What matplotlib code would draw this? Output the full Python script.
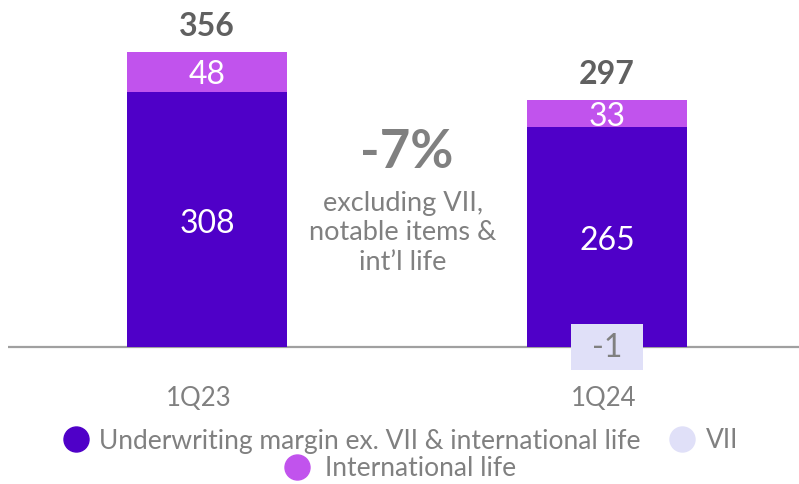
import matplotlib.pyplot as plt
from matplotlib.lines import Line2D

plt.rcParams['font.family'] = ['Lato', 'DejaVu Sans']

quarters = ['1Q23', '1Q24']
underwriting = [308, 265]
intl_life = [48, 33]
vii = [0, -1]
totals = [356, 297]

c_uw = '#4f00c8'
c_intl = '#c153ed'
c_vii = '#e0e0f8'
c_text = '#808080'
c_total = '#606060'

fig = plt.figure(figsize=(7.99, 4.84), dpi=100)
ax = fig.add_axes([8 / 799, 104 / 484, 791 / 799, 380 / 484])

x = range(len(quarters))
ax.axhline(0, color='#a0a0a0', lw=1.6, zorder=1)
ax.bar(x, underwriting, width=0.4, color=c_uw, zorder=2)
ax.bar(x, intl_life, width=0.4, bottom=underwriting, color=c_intl, zorder=2)

for i in x:
    ax.text(i, underwriting[i] / 2 - 5, str(underwriting[i]), color='white',
            ha='center', va='center', fontsize=23)
    ax.text(i, underwriting[i] + intl_life[i] / 2 - 4, str(intl_life[i]),
            color='white', ha='center', va='center', fontsize=23)
    ax.text(i, totals[i] + 14, str(totals[i]), color=c_total,
            ha='center', va='bottom', fontsize=23, fontweight='bold')
    if vii[i] != 0:
        # small values get a minimum-height box centred on the baseline
        h = max(abs(vii[i]), 55)
        ax.bar(i, h, width=0.178, bottom=-h / 2, color=c_vii, zorder=3)
        ax.text(i, -1, str(vii[i]), color=c_text, ha='center', va='center',
                fontsize=23, zorder=4)

ax.text(0.5, 235, '-7%', color=c_text, ha='center', va='center',
        fontsize=38, fontweight='bold')
ax.text(0.49, 138, 'excluding VII,\nnotable items &\nint\u2019l life',
        color=c_text, ha='center', va='center', fontsize=19.5, linespacing=1.23)

ax.set_xlim(-0.4975, 1.48)
ax.set_ylim(-40, 419)
ax.axis('off')

tick_x = [199, 604]
for i in x:
    fig.text(tick_x[i] / 799, 1 - 399 / 484, quarters[i], color=c_text,
             ha='center', va='center', fontsize=18.5)

def handle(c):
    return Line2D([], [], ls='none', marker='o', markersize=18,
                  markerfacecolor=c, markeredgecolor=c)

fig.legend([handle(c_uw), handle(c_vii)],
           ['Underwriting margin ex. VII & international life', 'VII'],
           loc='center', bbox_to_anchor=(0.5, 1 - 441 / 484), ncol=2,
           frameon=False, fontsize=19, handletextpad=0.35,
           columnspacing=1.0, handlelength=1.1, labelcolor=c_text,
           borderpad=0, borderaxespad=0)
fig.legend([handle(c_intl)], ['International life'], loc='center',
           bbox_to_anchor=(0.5, 1 - 469 / 484), frameon=False, fontsize=19,
           handletextpad=0.5, handlelength=1.1, labelcolor=c_text,
           borderpad=0, borderaxespad=0)

fig.savefig('out.png', dpi=100)
